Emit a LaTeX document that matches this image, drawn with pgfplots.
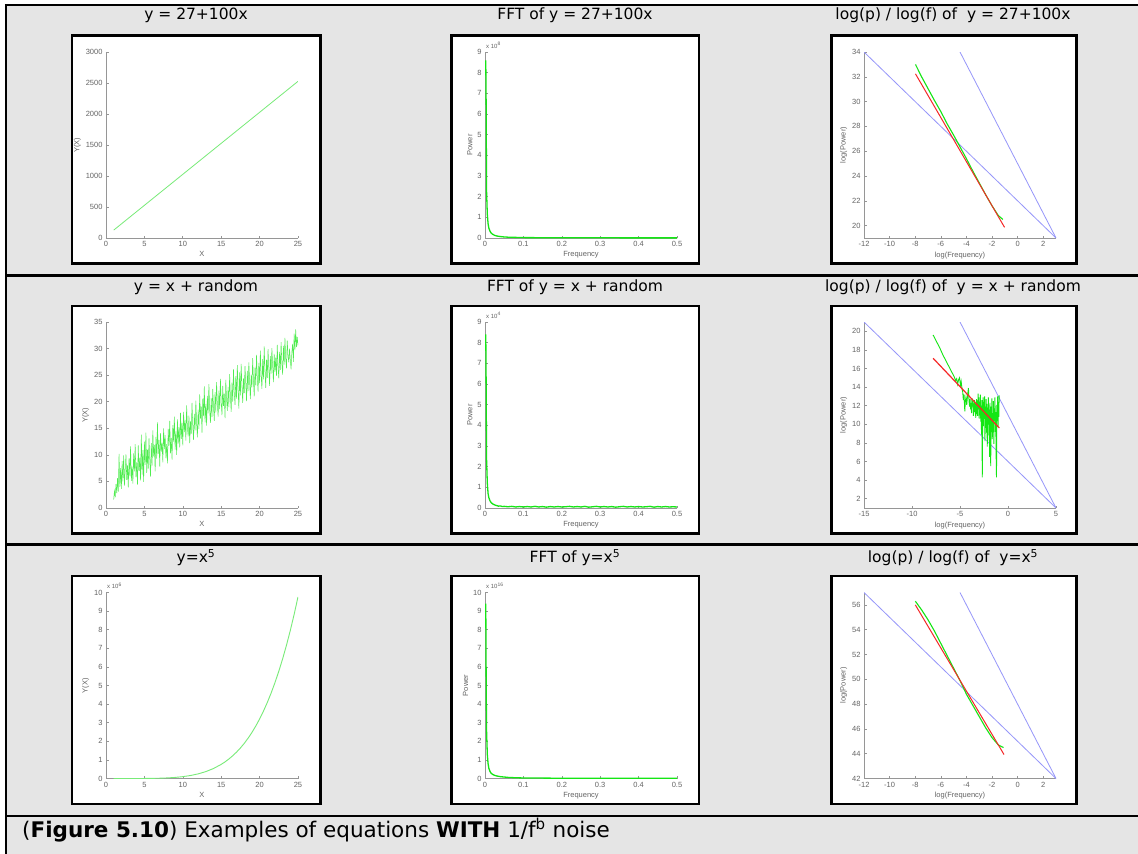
\documentclass[border=0pt]{standalone}
\usepackage{fontspec}
\setmainfont{DejaVu Sans}
\newfontfamily\plotfont{Liberation Sans}
\usepackage{pgfplots}
\pgfplotsset{compat=1.18}
\definecolor{cellgray}{HTML}{E5E5E5}
\definecolor{lgreen}{RGB}{120,235,120}
\definecolor{mgreen}{RGB}{20,230,20}
\definecolor{lblue}{RGB}{150,150,250}
\definecolor{mred}{RGB}{245,40,40}
\definecolor{axgray}{RGB}{150,150,150}
\definecolor{txtgray}{RGB}{100,100,100}

\newcommand{\ptitle}{\fontsize{15.5}{18}\selectfont}

\pgfplotsset{
  mlab/.style={
    scale only axis, width=192pt, height=186pt, anchor=south west,
    axis lines*=left, axis line style={draw=axgray, line width=0.9pt, -},
    tick style={draw=axgray, line width=0.6pt}, tick align=inside, major tick length=2.5pt,
    ticklabel style={font=\plotfont\fontsize{7.5}{8}\selectfont, text=txtgray},
    label style={font=\plotfont\fontsize{7.5}{8}\selectfont, text=txtgray},
    xlabel style={yshift=2pt}, ylabel style={yshift=-2pt},
    enlargelimits=false, clip mode=individual,
    /pgf/number format/assume math mode=true, /pgf/number format/1000 sep={},
    /pgf/number format/fixed}}
\newcommand{\expo}[1]{\node[anchor=south west, inner sep=0pt, font=\plotfont\fontsize{6}{7}\selectfont, text=txtgray] at (rel axis cs:0.005,1.02) {x 10\textsuperscript{#1}};}

\begin{document}
\begin{tikzpicture}
\useasboundingbox (0pt,0pt) rectangle (1138pt,-854pt);
\fill[white] (0pt,0pt) rectangle (1138pt,-854pt);
\fill[cellgray] (6pt,-5pt) rectangle (1138pt,-854pt);
\draw[line width=2.4pt] (4.8pt,-5.2pt) -- (1138pt,-5.2pt);
\draw[line width=2.4pt] (6pt,-4pt) -- (6pt,-854pt);
\draw[line width=2.4pt] (6pt,-275.3pt) -- (1138pt,-275.3pt);
\draw[line width=2.4pt] (6pt,-544.5pt) -- (1138pt,-544.5pt);
\draw[line width=2.4pt] (6pt,-815.7pt) -- (1138pt,-815.7pt);

% white plot frames
\foreach \yt/\yb in {35.3/263.5, 306/533.5, 576/804}{
  \filldraw[fill=white, draw=black, line width=2.4pt] (72pt,-\yt pt) rectangle (320.5pt,-\yb pt);
  \filldraw[fill=white, draw=black, line width=2.4pt] (451.5pt,-\yt pt) rectangle (699pt,-\yb pt);
  \filldraw[fill=white, draw=black, line width=2.4pt] (831.3pt,-\yt pt) rectangle (1076.5pt,-\yb pt);
}

% titles
\node[anchor=base, font=\ptitle] at (196pt,-19.5pt) {y = 27+100x};
\node[anchor=base, font=\ptitle] at (575pt,-19.5pt) {FFT of y = 27+100x};
\node[anchor=base, font=\ptitle] at (953pt,-19.5pt) {log(p) / log(f) of\ \ y = 27+100x};
\node[anchor=base, font=\ptitle] at (196pt,-291.7pt) {y = x + random};
\node[anchor=base, font=\ptitle] at (575pt,-291.7pt) {FFT of y = x + random};
\node[anchor=base, font=\ptitle] at (953pt,-291.7pt) {log(p) / log(f) of\ \ y = x + random};
\node[anchor=base, font=\ptitle] at (196pt,-562.5pt) {y=x\textsuperscript{5}};
\node[anchor=base, font=\ptitle] at (575pt,-562.5pt) {FFT of y=x\textsuperscript{5}};
\node[anchor=base, font=\ptitle] at (953pt,-562.5pt) {log(p) / log(f) of\ \ y=x\textsuperscript{5}};
\node[anchor=base west, inner sep=0pt, font=\fontsize{21.5}{25}\selectfont] at (22pt,-837.3pt) {(\textbf{Figure 5.10}) Examples of equations \textbf{WITH} 1/f\textsuperscript{b} noise};

% ---- row 1 ----
\begin{axis}[mlab, at={(106pt,-238pt)}, xmin=0, xmax=25, ymin=0, ymax=3000,
  xtick={0,5,...,25}, ytick={0,500,...,3000}, xlabel={X}, ylabel={Y(X)}]
\addplot[lgreen, line width=0.8pt] coordinates {(1,127) (25,2527)};
\end{axis}

\begin{axis}[mlab, at={(485pt,-238pt)}, xmin=0, xmax=0.5, ymin=0, ymax=9,
  xtick={0,0.1,...,0.5}, ytick={0,1,...,9}, xlabel={Frequency}, ylabel={Power}]
\addplot[mgreen, line width=1.3pt] coordinates {(0.002,8.6) (0.003,6.4) (0.004,2.3) (0.006,1.15) (0.008,0.7)
  (0.010,0.48) (0.013,0.33) (0.016,0.24) (0.02,0.18) (0.025,0.13) (0.03,0.1) (0.04,0.07) (0.05,0.05)
  (0.06,0.04) (0.08,0.03) (0.1,0.02) (0.2,0.01) (0.3,0.008) (0.5,0.006)};
\expo{8}
\end{axis}

\begin{axis}[mlab, at={(864pt,-238pt)}, xmin=-12, xmax=3, ymin=19, ymax=34,
  xtick={-12,-10,...,2}, ytick={20,22,...,34}, xlabel={log(Frequency)}, ylabel={log(Power)}]
\addplot[lblue, line width=0.8pt] coordinates {(-12,34) (3,19)};
\addplot[lblue, line width=0.8pt] coordinates {(-4.5,34) (3,19)};
\addplot[mgreen, line width=1.1pt] coordinates {(-7.98,33.0) (-7.5,32.0) (-7.0,31.05) (-6.5,30.1) (-6.0,29.2)
  (-5.5,28.2) (-5.0,27.3) (-4.5,26.35) (-4.0,25.4) (-3.5,24.4) (-3.0,23.45) (-2.5,22.5) (-2.0,21.6)
  (-1.5,20.8) (-1.15,20.5)};
\addplot[mred, line width=1.0pt] coordinates {(-7.98,32.24) (-1.02,19.86)};
\end{axis}

% ---- row 2 ----
\begin{axis}[mlab, at={(106pt,-508pt)}, xmin=0, xmax=25, ymin=0, ymax=35,
  xtick={0,5,...,25}, ytick={0,5,...,35}, xlabel={X}, ylabel={Y(X)}]
\addplot[mgreen!75!white, line width=0.5pt] coordinates {
(1.0,1.6) (1.1,3.2) (1.2,2.0) (1.3,4.5) (1.4,2.8) (1.5,5.6) (1.6,3.1) (1.7,10.2) (1.8,4.0) (1.9,7.5)
(2.0,3.6) (2.1,8.8) (2.2,5.0) (2.3,9.9) (2.4,4.2) (2.5,7.1) (2.6,10.1) (2.7,5.3) (2.8,8.0) (2.9,3.9)
(3.0,9.4) (3.1,6.0) (3.2,11.6) (3.3,5.1) (3.4,7.8) (3.5,4.6) (3.6,10.3) (3.7,6.9) (3.8,12.0) (3.9,5.8)
(4.0,8.6) (4.1,4.4) (4.2,11.8) (4.3,7.0) (4.4,9.5) (4.5,5.2) (4.6,13.8) (4.7,6.3) (4.8,10.9) (4.9,4.9)
(5.0,12.5) (5.1,8.1) (5.2,14.2) (5.3,6.6) (5.4,11.0) (5.5,7.4) (5.6,13.1) (5.7,9.0) (5.8,5.9) (5.9,12.2)
(6.0,8.0) (6.1,14.6) (6.2,9.7) (6.3,11.9) (6.4,6.9) (6.5,13.4) (6.6,9.3) (6.7,16.1) (6.8,10.2) (6.9,12.8)
(7.0,7.8) (7.1,14.1) (7.2,10.6) (7.3,12.3) (7.4,8.6) (7.5,15.0) (7.6,11.1) (7.7,13.7) (7.8,9.4) (7.9,12.0)
(8.0,8.4) (8.1,14.9) (8.2,11.7) (8.3,16.4) (8.4,10.3) (8.5,13.2) (8.6,9.1) (8.7,15.6) (8.8,12.5) (8.9,17.2)
(9.0,11.0) (9.1,14.4) (9.2,10.0) (9.3,16.7) (9.4,12.1) (9.5,15.2) (9.6,11.4) (9.7,17.9) (9.8,13.0) (9.9,16.0)
(10.0,11.8) (10.1,18.1) (10.2,14.3) (10.3,16.6) (10.4,12.7) (10.5,19.3) (10.6,15.1) (10.7,13.5) (10.8,17.4) (10.9,12.2)
(11.0,16.3) (11.1,14.0) (11.2,19.8) (11.3,15.4) (11.4,12.8) (11.5,17.7) (11.6,14.6) (11.7,20.2) (11.8,15.9) (11.9,13.3)
(12.0,18.5) (12.1,14.9) (12.2,21.4) (12.3,16.8) (12.4,19.1) (12.5,14.2) (12.6,20.6) (12.7,17.3) (12.8,22.9) (12.9,16.1)
(13.0,19.6) (13.1,15.5) (13.2,21.1) (13.3,17.8) (13.4,23.3) (13.5,18.4) (13.6,16.0) (13.7,20.7) (13.8,17.1) (13.9,22.4)
(14.0,18.9) (14.1,16.4) (14.2,21.8) (14.3,18.0) (14.4,23.7) (14.5,19.5) (14.6,17.2) (14.7,22.1) (14.8,18.6) (14.9,24.3)
(15.0,19.9) (15.1,17.5) (15.2,23.0) (15.3,19.2) (15.4,21.5) (15.5,16.9) (15.6,24.1) (15.7,20.4) (15.8,18.3) (15.9,22.8)
(16.0,19.0) (16.1,25.2) (16.2,20.9) (16.3,18.1) (16.4,23.6) (16.5,20.0) (16.6,26.1) (16.7,21.7) (16.8,19.4) (16.9,24.8)
(17.0,20.6) (17.1,26.9) (17.2,22.3) (17.3,18.7) (17.4,25.5) (17.5,21.2) (17.6,27.1) (17.7,22.9) (17.8,19.8) (17.9,24.4)
(18.0,21.6) (18.1,26.7) (18.2,23.4) (18.3,20.1) (18.4,25.8) (18.5,22.0) (18.6,27.4) (18.7,23.8) (18.8,20.5) (18.9,25.1)
(19.0,22.7) (19.1,28.2) (19.2,24.0) (19.3,21.0) (19.4,26.4) (19.5,23.1) (19.6,28.8) (19.7,24.6) (19.8,21.9) (19.9,27.3)
(20.0,23.5) (20.1,29.6) (20.2,25.0) (20.3,22.4) (20.4,28.0) (20.5,24.2) (20.6,30.4) (20.7,25.7) (20.8,22.6) (20.9,27.9)
(21.0,24.5) (21.1,29.9) (21.2,26.2) (21.3,23.0) (21.4,28.6) (21.5,25.3) (21.6,30.1) (21.7,26.8) (21.8,23.7) (21.9,29.0)
(22.0,25.6) (22.1,28.3) (22.2,24.9) (22.3,30.7) (22.4,26.5) (22.5,24.4) (22.6,29.4) (22.7,26.0) (22.8,31.2) (22.9,27.2)
(23.0,25.1) (23.1,30.5) (23.2,27.0) (23.3,32.0) (23.4,28.1) (23.5,26.3) (23.6,31.5) (23.7,28.7) (23.8,27.4) (23.9,30.0)
(24.0,27.8) (24.1,26.1) (24.2,29.3) (24.3,30.9) (24.4,27.5) (24.5,32.8) (24.6,29.7) (24.7,33.6) (24.8,30.3) (24.9,32.2)
(25.0,30.6)};
\end{axis}

\begin{axis}[mlab, at={(485pt,-508pt)}, xmin=0, xmax=0.5, ymin=0, ymax=9,
  xtick={0,0.1,...,0.5}, ytick={0,1,...,9}, xlabel={Frequency}, ylabel={Power}]
\addplot[mgreen, line width=1.3pt] coordinates {(0.002,8.4) (0.003,6.0) (0.004,2.4) (0.006,1.2) (0.008,0.7)
  (0.010,0.5) (0.013,0.35) (0.016,0.26) (0.02,0.2) (0.025,0.15) (0.03,0.12) (0.035,0.09) (0.04,0.1)
  (0.045,0.07) (0.05,0.08) (0.06,0.06) (0.07,0.08) (0.08,0.05) (0.09,0.07) (0.1,0.05) (0.11,0.07) (0.12,0.05)
  (0.13,0.08) (0.14,0.05) (0.15,0.07) (0.16,0.04) (0.17,0.07) (0.18,0.05) (0.19,0.07) (0.2,0.05) (0.21,0.06)
  (0.22,0.08) (0.23,0.05) (0.24,0.07) (0.25,0.05) (0.26,0.08) (0.27,0.04) (0.28,0.06) (0.29,0.08) (0.3,0.05)
  (0.31,0.07) (0.32,0.05) (0.33,0.07) (0.34,0.04) (0.35,0.06) (0.36,0.08) (0.37,0.05) (0.38,0.07) (0.39,0.05)
  (0.4,0.07) (0.41,0.05) (0.42,0.06) (0.43,0.08) (0.44,0.04) (0.45,0.07) (0.46,0.05) (0.47,0.07) (0.48,0.05)
  (0.49,0.06) (0.5,0.05)};
\expo{4}
\end{axis}

\begin{axis}[mlab, at={(864pt,-508pt)}, xmin=-15, xmax=5, ymin=1, ymax=21,
  xtick={-15,-10,...,5}, ytick={2,4,...,20}, xlabel={log(Frequency)}, ylabel={log(Power)}]
\addplot[lblue, line width=0.8pt] coordinates {(-15,21) (5,1)};
\addplot[lblue, line width=0.8pt] coordinates {(-5,21) (5,1)};
\addplot[mgreen, line width=0.9pt] coordinates {(-7.8,19.6) (-7.4,18.8) (-7.1,18.2) (-6.8,17.5) (-6.5,16.9)
  (-6.2,16.3) (-6.0,15.9) (-5.8,15.5) (-5.6,15.1) (-5.45,14.7) (-5.35,14.9) (-5.25,14.3) (-5.15,14.8)
  (-5.05,15.0) (-4.95,14.2) (-4.88,14.6) (-4.8,13.9) (-4.72,13.5) (-4.65,12.6) (-4.58,13.2) (-4.5,11.4)
  (-4.45,12.4) (-4.38,12.9) (-4.3,12.1) (-4.24,12.8) (-4.18,13.4) (-4.12,13.9) (-4.06,12.5) (-4.0,11.9)
  (-3.95,12.7) (-3.9,11.6) (-3.85,12.3) (-3.8,11.2) (-3.75,12.8) (-3.7,11.9) (-3.65,12.5) (-3.6,10.9)
  (-3.55,11.8) (-3.5,12.6) (-3.45,11.3) (-3.4,12.2) (-3.36,10.7) (-3.32,11.9) (-3.28,12.7) (-3.24,11.1)
  (-3.2,12.4) (-3.16,10.9) (-3.12,13.3) (-3.08,11.6) (-3.04,12.9) (-3.0,10.6) (-2.96,12.1) (-2.92,11.4)
  (-2.88,13.2) (-2.84,10.3) (-2.8,12.0) (-2.76,8.9) (-2.72,12.6) (-2.68,4.3) (-2.64,11.2) (-2.6,12.9)
  (-2.56,9.8) (-2.52,12.4) (-2.48,10.7) (-2.44,13.0) (-2.4,8.2) (-2.36,11.9) (-2.32,10.3) (-2.28,12.7)
  (-2.24,9.1) (-2.2,12.2) (-2.16,7.6) (-2.12,11.8) (-2.08,10.2) (-2.04,12.9) (-2.0,8.8) (-1.96,11.5)
  (-1.92,6.5) (-1.88,12.3) (-1.84,9.6) (-1.8,5.5) (-1.76,11.9) (-1.72,10.1) (-1.68,12.8) (-1.64,8.4)
  (-1.6,11.2) (-1.56,9.9) (-1.52,12.5) (-1.48,7.9) (-1.44,11.7) (-1.4,10.4) (-1.36,12.9) (-1.32,9.2)
  (-1.28,11.3) (-1.24,6.9) (-1.2,4.3) (-1.16,12.1) (-1.12,10.6) (-1.08,13.0) (-1.04,9.7) (-1.0,12.4)
  (-0.96,10.8) (-0.92,13.1)};
\addplot[mred, line width=1.2pt] coordinates {(-7.8,17.1) (-0.9,9.6)};
\end{axis}

% ---- row 3 ----
\begin{axis}[mlab, at={(106pt,-778.5pt)}, xmin=0, xmax=25, ymin=0, ymax=10,
  xtick={0,5,...,25}, ytick={0,1,...,10}, xlabel={X}, ylabel={Y(X)}]
\addplot[lgreen, line width=0.9pt] coordinates {(1,0.000001) (2,0.000032) (3,0.000243) (4,0.001024)
  (5,0.003125) (6,0.007776) (7,0.016807) (8,0.032768) (9,0.059049) (10,0.1) (11,0.161051) (12,0.248832)
  (13,0.371293) (14,0.537824) (15,0.759375) (15.5,0.894661) (16,1.048576) (16.5,1.222981) (17,1.419857)
  (17.5,1.641309) (18,1.889568) (18.5,2.166999) (19,2.476099) (19.5,2.819506) (20,3.2) (20.5,3.620506)
  (21,4.084101) (21.5,4.594014) (22,5.153632) (22.5,5.766504) (23,6.436343) (23.5,7.167031)
  (24,7.962624) (24.5,8.827352) (25,9.765625)};
\expo{6}
\end{axis}

\begin{axis}[mlab, at={(485pt,-778.5pt)}, xmin=0, xmax=0.5, ymin=0, ymax=10,
  xtick={0,0.1,...,0.5}, ytick={0,1,...,10}, xlabel={Frequency}, ylabel={Power}]
\addplot[mgreen, line width=1.3pt] coordinates {(0.002,9.4) (0.003,5.4) (0.004,2.6) (0.006,1.3) (0.008,0.8)
  (0.010,0.55) (0.013,0.38) (0.016,0.28) (0.02,0.22) (0.025,0.17) (0.03,0.14) (0.04,0.1) (0.05,0.08)
  (0.06,0.06) (0.08,0.04) (0.1,0.03) (0.2,0.015) (0.3,0.01) (0.5,0.008)};
\expo{16}
\end{axis}

\begin{axis}[mlab, at={(864pt,-778.5pt)}, xmin=-12, xmax=3, ymin=42, ymax=57,
  xtick={-12,-10,...,2}, ytick={42,44,...,56}, xlabel={log(Frequency)}, ylabel={log(Power)}]
\addplot[lblue, line width=0.8pt] coordinates {(-12,57) (3,42)};
\addplot[lblue, line width=0.8pt] coordinates {(-4.5,57) (3,42)};
\addplot[mgreen, line width=1.1pt] coordinates {(-7.99,56.3) (-7.5,55.6) (-7.0,54.8) (-6.5,53.9) (-6.0,52.9)
  (-5.5,51.9) (-5.0,50.9) (-4.5,49.9) (-4.0,48.8) (-3.5,47.9) (-3.0,47.0) (-2.5,46.1) (-2.0,45.3)
  (-1.5,44.7) (-1.1,44.5)};
\addplot[mred, line width=1.0pt] coordinates {(-7.99,56.0) (-1.06,43.93)};
\end{axis}
\end{tikzpicture}
\end{document}
